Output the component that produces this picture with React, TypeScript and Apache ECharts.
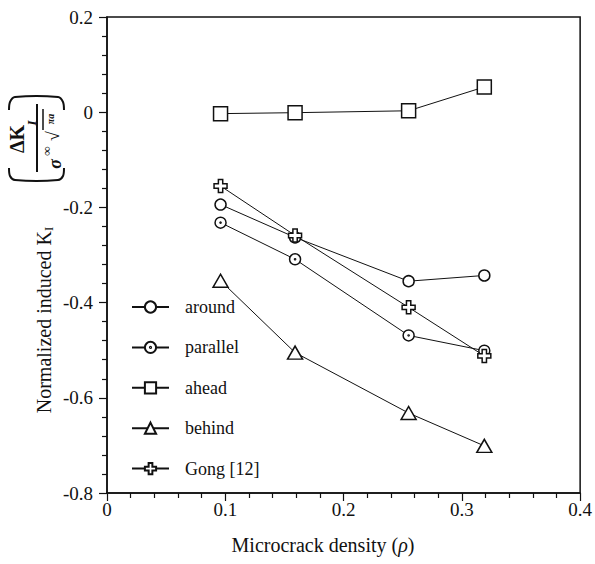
import React, { useEffect, useRef } from "react";
import * as echarts from "echarts";

const densities = [0.096, 0.159, 0.255, 0.319];
const around = [-0.194, -0.263, -0.355, -0.343];
const parallel = [-0.232, -0.309, -0.469, -0.501];
const ahead = [-0.003, -0.001, 0.003, 0.053];
const behind = [-0.354, -0.505, -0.632, -0.701];
const gong = [-0.155, -0.259, -0.41, -0.512];
const seriesNames = ["around", "parallel", "ahead", "behind", "Gong [12]"];

const SERIF = "'Times New Roman', 'Liberation Serif', Times, 'DejaVu Serif', serif";
const INK = "#111";

const dotCircle =
  "path://M10,5A5,5,0,1,1,0,5A5,5,0,1,1,10,5Z M5.5,5A0.5,0.5,0,1,1,4.5,5A0.5,0.5,0,1,1,5.5,5Z";
const plusPath =
  "path://M4,0L8,0L8,4L12,4L12,8L8,8L8,12L4,12L4,8L0,8L0,4L4,4Z";

function pairs(ys: number[]) {
  return densities.map((x, i) => [x, ys[i]]);
}

export default function App() {
  const ref = useRef<HTMLDivElement>(null);
  useEffect(() => {
    if (!ref.current) return;
    const chart = echarts.init(ref.current, undefined, { renderer: "svg" });
    const mk = (name: string, ys: number[], symbol: string, size: any) => ({
      name,
      type: "line",
      data: pairs(ys),
      symbol,
      symbolSize: size,
      showAllSymbol: true,
      lineStyle: { color: INK, width: 1 },
      itemStyle: { color: "#fff", borderColor: INK, borderWidth: 1.5 },
      emphasis: { disabled: true },
    });
    const rot = Math.PI / 2;
    const tickStyle = { color: INK, width: 1.2 };
    chart.setOption({
      animation: false,
      backgroundColor: "#fff",
      textStyle: { fontFamily: SERIF },
      grid: {
        left: 107,
        right: 12,
        top: 17,
        bottom: 71,
        show: true,
        borderColor: INK,
        borderWidth: 1.5,
        backgroundColor: "transparent",
      },
      legend: {
        orient: "vertical",
        left: 131,
        top: 298,
        padding: 0,
        itemWidth: 37,
        itemHeight: 14,
        itemGap: 22.4,
        data: seriesNames,
        textStyle: {
          fontFamily: SERIF,
          fontSize: 18,
          color: INK,
          padding: [0, 0, 0, 11],
        },
      },
      xAxis: {
        type: "value",
        min: 0,
        max: 0.4,
        interval: 0.1,
        axisLine: { onZero: false, lineStyle: { color: INK, width: 1.5 } },
        axisTick: { inside: false, length: 8, lineStyle: tickStyle },
        minorTick: { show: true, splitNumber: 5, length: 5, lineStyle: tickStyle },
        splitLine: { show: false },
        axisLabel: {
          fontFamily: SERIF,
          fontSize: 19,
          color: INK,
          margin: 7,
          formatter: (v: number) => (Math.abs(v) < 1e-9 ? "0" : String(+v.toFixed(1))),
        },
      },
      yAxis: {
        type: "value",
        min: -0.8,
        max: 0.2,
        interval: 0.2,
        axisLine: { onZero: false, lineStyle: { color: INK, width: 1.5 } },
        axisTick: { inside: false, length: 8, lineStyle: tickStyle },
        minorTick: { show: true, splitNumber: 5, length: 5, lineStyle: tickStyle },
        splitLine: { show: false },
        axisLabel: {
          fontFamily: SERIF,
          fontSize: 19,
          color: INK,
          margin: 14,
          formatter: (v: number) => (Math.abs(v) < 1e-9 ? "0" : String(+v.toFixed(1))),
        },
      },
      series: [
        mk("around", around, "circle", 11),
        mk("parallel", parallel, dotCircle, 11),
        mk("ahead", ahead, "rect", 14),
        mk("behind", behind, "triangle", [15, 13]),
        mk("Gong [12]", gong, plusPath, 13),
      ],
      graphic: [
        {
          type: "text",
          x: 44,
          y: 320,
          rotation: rot,
          style: {
            text: "Normalized induced K{sub|I}",
            fontFamily: SERIF,
            fontSize: 20,
            fill: INK,
            align: "center",
            verticalAlign: "middle",
            rich: {
              sub: { fontFamily: SERIF, fontSize: 13, fill: INK, verticalAlign: "bottom", padding: [8, 0, 0, 0] },
            },
          },
        },
        {
          type: "text",
          x: 323,
          y: 545,
          style: {
            text: "Microcrack density ({i|ρ})",
            fontFamily: SERIF,
            fontSize: 20,
            fill: INK,
            align: "center",
            verticalAlign: "middle",
            rich: { i: { fontFamily: SERIF, fontSize: 20, fontStyle: "italic", fill: INK } },
          },
        },
        // formula (ΔK_I / σ∞ √πa)
        {
          type: "text",
          x: 17,
          y: 139,
          rotation: rot,
          style: { text: "ΔK", fontFamily: SERIF, fontSize: 20, fontWeight: "bold", fill: INK, align: "center", verticalAlign: "middle" },
        },
        {
          type: "text",
          x: 31,
          y: 123,
          rotation: rot,
          style: { text: "I", fontFamily: SERIF, fontSize: 13, fontWeight: "bold", fontStyle: "italic", fill: INK, align: "center", verticalAlign: "middle" },
        },
        {
          type: "line",
          shape: { x1: 37, y1: 104, x2: 37, y2: 172 },
          style: { stroke: INK, lineWidth: 2 },
        },
        {
          type: "text",
          x: 55,
          y: 164,
          rotation: rot,
          style: { text: "σ", fontFamily: SERIF, fontSize: 18, fontStyle: "italic", fontWeight: "bold", fill: INK, align: "center", verticalAlign: "middle" },
        },
        {
          type: "text",
          x: 46,
          y: 151,
          rotation: rot,
          style: { text: "∞", fontFamily: SERIF, fontSize: 13, fontWeight: "bold", fill: INK, align: "center", verticalAlign: "middle" },
        },
        {
          type: "text",
          x: 53,
          y: 136,
          rotation: rot,
          style: { text: "√", fontFamily: SERIF, fontSize: 18, fill: INK, align: "center", verticalAlign: "middle" },
        },
        {
          type: "line",
          shape: { x1: 43, y1: 109, x2: 43, y2: 130 },
          style: { stroke: INK, lineWidth: 1.5 },
        },
        {
          type: "text",
          x: 50,
          y: 119,
          rotation: rot,
          style: { text: "πa", fontFamily: SERIF, fontSize: 10, fontWeight: "bold", fontStyle: "italic", fill: INK, align: "center", verticalAlign: "middle" },
        },
        {
          type: "polyline",
          shape: { points: [[9, 110], [10, 102], [15, 97], [58, 97], [63, 102], [64, 110]], smooth: 0.3 },
          style: { stroke: INK, lineWidth: 2, fill: "none" },
        },
        {
          type: "polyline",
          shape: { points: [[9, 168], [10, 176], [15, 180], [58, 180], [63, 176], [64, 168]], smooth: 0.3 },
          style: { stroke: INK, lineWidth: 2, fill: "none" },
        },
      ],
    });
    return () => chart.dispose();
  }, []);
  return (
    <div
      ref={ref}
      style={{ position: "fixed", left: 0, top: 0, width: 595, height: 564, background: "#fff" }}
    />
  );
}
